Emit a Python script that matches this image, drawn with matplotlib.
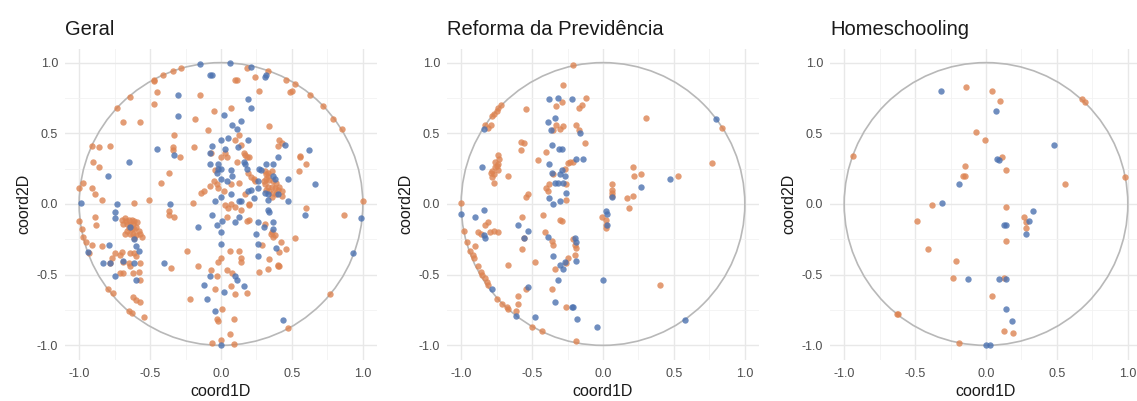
import numpy as np
import matplotlib.pyplot as plt
from matplotlib.patches import Circle

plt.rcParams['font.family'] = ['Liberation Sans', 'DejaVu Sans']
plt.rcParams['axes.unicode_minus'] = False

titulos = ['Geral', 'Reforma da Previdência', 'Homeschooling']
ticks = [-1.0, -0.5, 0.0, 0.5, 1.0]
tick_labels = ['-1.0', '-0.5', '0.0', '0.5', '1.0']
minor_ticks = [-0.75, -0.25, 0.25, 0.75]
raio = 1.0

# --- Geral ---
geral_azul = [
    (-0.15, 0.99), (-0.08, 0.91), (-0.06, 0.91), (-0.30, 0.77), (0.02, 0.63), (-0.30, 0.62),
    (0.0, 0.45), (-0.45, 0.39), (-0.06, 0.41), (-0.33, 0.35), (-0.08, 0.36), (-0.65, 0.30),
    (-0.80, 0.20), (-0.08, 0.28), (-0.02, 0.28), (-0.02, 0.25), (-0.03, 0.22), (-0.99, 0.01),
    (-0.73, 0.0), (-0.36, 0.0), (-0.04, 0.02), (0.0, 0.05), (0.0, 0.18),
    (0.06, 1.0), (0.21, 0.97), (0.32, 0.91), (0.31, 0.90), (0.19, 0.74), (0.21, 0.68),
    (0.14, 0.59), (0.08, 0.56), (0.11, 0.53), (0.05, 0.47), (0.19, 0.45), (0.45, 0.42),
    (0.62, 0.38), (0.40, 0.33), (0.37, 0.28), (0.32, 0.28), (0.27, 0.25), (0.28, 0.24),
    (0.47, 0.18), (0.66, 0.14), (0.07, 0.07), (0.12, 0.40), (0.03, 0.39), (0.17, 0.28),
    (0.18, 0.25), (0.16, 0.30), (0.0, 0.25), (0.07, 0.24), (0.08, 0.20), (0.04, 0.16),
    (0.26, 0.16), (0.26, 0.11), (0.21, 0.10), (0.19, 0.09), (0.40, 0.07), (0.31, 0.08),
    (0.33, 0.07), (0.33, 0.03), (0.23, 0.04), (0.14, 0.02), (0.37, 0.20), (0.38, 0.18),
    (-0.75, -0.06), (-0.75, -0.10), (-0.64, -0.16), (-0.61, -0.25), (-0.60, -0.30),
    (-0.58, -0.33), (-0.61, -0.42), (-0.60, -0.54), (-0.79, -0.29), (-0.83, -0.42),
    (-0.78, -0.42), (-0.69, -0.40), (-0.75, -0.51), (-0.40, -0.42), (-0.16, -0.16),
    (-0.06, -0.08), (-0.03, -0.15), (0.0, -0.20), (0.0, -0.28), (-0.08, -0.51), (-0.12, -0.57),
    (-0.10, -0.67), (-0.04, -0.76), (0.02, -0.62), (0.0, -1.0), (-0.94, -0.34),
    (0.13, 0.02), (0.01, -0.12), (0.10, -0.13), (0.13, -0.09), (0.26, -0.13), (0.25, -0.21),
    (0.26, -0.28), (0.26, -0.37), (0.33, -0.04), (0.34, -0.06), (0.30, -0.16), (0.37, -0.13),
    (0.37, -0.18), (0.39, -0.31), (0.47, 0.02), (0.59, -0.08), (0.99, -0.10), (0.93, -0.35),
    (0.44, -0.82), (0.10, -0.51), (0.11, -0.54), (0.16, -0.58),
]
geral_laranja = [
    (-0.28, 0.96), (-0.34, 0.94), (-0.41, 0.91), (-0.47, 0.88), (-0.47, 0.87), (-0.45, 0.79),
    (-0.47, 0.71), (-0.15, 0.77), (-0.64, 0.76), (-0.73, 0.68), (-0.05, 0.66), (-0.18, 0.60),
    (-0.69, 0.58), (-0.57, 0.58), (-0.09, 0.52), (-0.33, 0.49), (-0.91, 0.41), (-0.86, 0.40),
    (-0.78, 0.41), (-0.34, 0.40), (-0.34, 0.38), (-0.29, 0.33), (-0.19, 0.40), (-0.07, 0.36),
    (-0.90, 0.30), (-0.86, 0.26), (-0.37, 0.22), (-0.42, 0.15), (0.0, 0.33), (-0.05, 0.16),
    (-0.08, 0.13), (-0.14, 0.08), (-0.12, 0.09), (-0.97, 0.15), (-1.0, 0.11), (-0.91, 0.11),
    (-0.89, 0.07), (-0.84, 0.03), (-0.61, 0.01), (-0.51, 0.03), (-0.20, 0.01), (-0.03, 0.14),
    (-0.04, 0.24), (0.02, 0.09), (-0.02, 0.11),
    (0.18, 0.96), (0.33, 0.94), (0.24, 0.90), (0.10, 0.88), (0.11, 0.88), (0.46, 0.88),
    (0.52, 0.85), (0.50, 0.80), (0.49, 0.79), (0.27, 0.80), (0.63, 0.77), (0.72, 0.69),
    (0.79, 0.60), (0.85, 0.53), (0.07, 0.68), (0.34, 0.55), (0.10, 0.45), (0.13, 0.49),
    (0.14, 0.42), (0.41, 0.45), (0.43, 0.43), (0.40, 0.41), (0.11, 0.30), (0.16, 0.36),
    (0.17, 0.35), (0.18, 0.33), (0.20, 0.33), (0.19, 0.22), (0.56, 0.34), (0.56, 0.33),
    (0.60, 0.28), (0.55, 0.23), (0.21, 0.19), (0.23, 0.18), (0.24, 0.16), (0.13, 0.15),
    (0.07, 0.14), (0.17, 0.07), (0.20, 0.0), (0.43, 0.06), (1.0, 0.02), (0.04, 0.33), (0.03, 0.36),
    (0.31, 0.23), (0.33, 0.22), (0.36, 0.23), (0.32, 0.18), (0.34, 0.17), (0.37, 0.16),
    (0.39, 0.15), (0.31, 0.14), (0.33, 0.12), (0.36, 0.12), (0.38, 0.11), (0.40, 0.10),
    (0.32, 0.10), (0.34, 0.09), (0.37, 0.08), (0.39, 0.07), (0.36, 0.05), (0.30, 0.16),
    (0.41, 0.12), (0.43, 0.09), (0.33, 0.20), (0.32, 0.21),
    (-0.70, -0.11), (-0.68, -0.10), (-0.65, -0.11), (-0.63, -0.11), (-0.61, -0.12),
    (-0.69, -0.14), (-0.66, -0.14), (-0.64, -0.15), (-0.62, -0.14), (-0.60, -0.16),
    (-0.65, -0.17), (-0.63, -0.18), (-0.61, -0.18), (-0.58, -0.19), (-0.68, -0.21),
    (-0.64, -0.21), (-0.62, -0.21), (-0.60, -0.22), (-0.57, -0.21), (-0.56, -0.23),
    (-0.61, -0.24), (-0.67, -0.12), (-0.59, -0.13), (-0.66, -0.19),
    (-0.64, -0.35), (-0.61, -0.35), (-0.60, -0.37), (-0.57, -0.42), (-0.58, -0.48),
    (-0.62, -0.49), (-0.57, -0.54), (-0.70, -0.34), (-0.71, -0.36), (-0.75, -0.35),
    (-0.69, -0.41), (-0.65, -0.42), (-0.64, -0.44), (-0.71, -0.49), (-0.69, -0.49),
    (-0.77, -0.38), (-0.78, -0.42), (-0.84, -0.30), (-0.91, -0.29), (-0.89, -0.09),
    (-0.88, -0.15), (-1.0, -0.12), (-0.98, -0.18), (-0.97, -0.23), (-0.95, -0.27),
    (-0.93, -0.35), (-0.80, -0.60), (-0.76, -0.63), (-0.62, -0.66), (-0.60, -0.68),
    (-0.57, -0.69), (-0.65, -0.76), (-0.63, -0.77), (-0.54, -0.80), (-0.24, -0.33),
    (-0.22, -0.67), (-0.16, -0.44), (-0.35, -0.45), (-0.02, -0.41), (0.0, -0.38),
    (-0.07, -0.47), (-0.03, -0.51), (-0.04, -0.60), (-0.03, -0.81), (-0.02, -0.83),
    (-0.06, -0.98), (0.0, -0.96), (-0.37, -0.05), (-0.37, -0.08), (-0.33, -0.09),
    (0.07, 0.0), (0.10, -0.02), (0.05, -0.03), (0.03, -0.01), (0.20, -0.01), (0.14, -0.04),
    (0.04, -0.09), (0.18, -0.12), (0.20, -0.11), (0.31, -0.14), (0.35, -0.21), (0.37, -0.23),
    (0.36, -0.20), (0.38, -0.22), (0.29, -0.29), (0.42, -0.27), (0.46, -0.32), (0.41, -0.34),
    (0.52, -0.24), (0.60, -0.03), (0.87, -0.08), (0.06, -0.33), (0.13, -0.33), (0.14, -0.38),
    (0.14, -0.41), (0.34, -0.39), (0.27, -0.48), (0.33, -0.46), (0.40, -0.43), (0.41, -0.44),
    (0.40, -0.44), (0.04, -0.47), (0.08, -0.49), (0.07, -0.58), (0.10, -0.64), (0.18, -0.63),
    (0.01, -0.74), (0.09, -0.81), (0.06, -0.92), (0.09, -0.99), (0.47, -0.88), (0.77, -0.64),
]

# --- Reforma da Previdência ---
previdencia_azul = [
    (-0.38, 0.74), (-0.32, 0.75), (-0.22, 0.74), (-0.34, 0.61), (-0.39, 0.58), (-0.37, 0.52),
    (-0.16, 0.50), (-0.36, 0.42), (-0.31, 0.39), (-0.29, 0.39), (-0.19, 0.32), (-0.14, 0.32),
    (-0.84, 0.53), (-0.85, 0.26), (-0.38, 0.28), (-0.36, 0.22), (-0.29, 0.24), (-0.30, 0.21),
    (-0.32, 0.15), (-0.34, 0.15), (-0.27, 0.20), (-0.28, 0.15), (-0.26, 0.08), (-0.38, 0.04),
    (-0.35, 0.0), (-0.30, 0.02), (-1.0, -0.07), (-0.90, -0.09), (-0.84, -0.04), (-0.83, -0.24),
    (-0.84, -0.22), (-0.60, -0.15), (-0.53, -0.19), (-0.56, -0.24), (-0.39, -0.23),
    (-0.35, -0.37), (-0.30, -0.43), (-0.28, -0.46), (-0.27, -0.41), (-0.32, -0.54),
    (-0.53, -0.59), (-0.78, -0.60), (-0.34, -0.69), (-0.22, -0.73), (-0.21, -0.73),
    (-0.18, -0.81), (-0.48, -0.80), (-0.61, -0.79), (-0.04, -0.87), (-0.19, -0.40),
    (0.0, -0.54), (-0.20, -0.24), (-0.19, -0.27),
    (0.80, 0.60), (0.27, 0.12), (0.47, 0.18), (0.06, 0.05), (0.02, -0.05), (0.03, -0.07),
    (0.03, -0.15), (0.58, -0.82),
]
previdencia_laranja = [
    (-0.21, 0.98), (-0.28, 0.84), (-0.12, 0.75), (-0.15, 0.70), (-0.17, 0.68), (-0.29, 0.72),
    (-0.33, 0.69), (-0.54, 0.67), (-0.72, 0.70), (-0.74, 0.68), (-0.75, 0.66), (-0.77, 0.64),
    (-0.78, 0.62), (-0.83, 0.56), (-0.79, 0.56), (-0.81, 0.54), (-0.58, 0.44), (-0.56, 0.43),
    (-0.58, 0.38), (-0.46, 0.31), (-0.40, 0.37), (-0.74, 0.35), (-0.73, 0.32), (-0.76, 0.30),
    (-0.74, 0.28), (-0.75, 0.27), (-0.76, 0.26), (-0.74, 0.24), (-0.78, 0.23), (-0.79, 0.22),
    (-0.77, 0.21), (-0.78, 0.19), (-0.77, 0.15), (-0.67, 0.20), (-0.35, 0.52), (-0.33, 0.56),
    (-0.30, 0.53), (-0.28, 0.55), (-0.19, 0.56), (-0.17, 0.52), (-0.13, 0.43), (-0.25, 0.29),
    (-0.23, 0.30), (-0.21, 0.30), (-0.27, 0.25), (-0.26, 0.14), (-0.35, 0.21), (-0.38, 0.14),
    (-0.40, 0.11), (-0.39, 0.09), (-0.53, 0.07), (-0.54, 0.05), (-0.26, 0.03), (-0.30, -0.11),
    (-0.29, -0.12), (-0.42, -0.08), (-0.57, -0.09), (-1.0, 0.01), (-0.81, -0.13), (-0.83, -0.15),
    (-0.88, -0.20), (-0.86, -0.21), (-0.80, -0.20), (-0.77, -0.19), (-0.74, -0.20), (-0.98, -0.19),
    (-0.96, -0.27), (-0.94, -0.33), (-0.92, -0.36), (-0.91, -0.38), (-0.90, -0.30), (-0.88, -0.44),
    (-0.86, -0.48), (-0.85, -0.50), (-0.83, -0.52), (-0.82, -0.55), (-0.81, -0.57), (-0.75, -0.67),
    (-0.71, -0.71), (-0.68, -0.73), (-0.67, -0.74), (-0.61, -0.76), (-0.60, -0.71), (-0.54, -0.60),
    (-0.67, -0.43), (-0.60, -0.65), (-0.50, -0.87), (-0.43, -0.90), (-0.48, -0.41), (-0.57, -0.32),
    (-0.56, -0.24), (-0.41, -0.20), (-0.36, -0.26), (-0.35, -0.29), (-0.34, -0.46), (-0.36, -0.60),
    (-0.26, -0.73), (-0.19, -0.97), (-0.21, -0.25), (-0.20, -0.29), (-0.19, -0.31), (-0.20, -0.36),
    (-0.25, -0.38), (-0.26, -0.42),
    (0.30, 0.61), (0.84, 0.54), (0.77, 0.29), (0.21, 0.26), (0.22, 0.20), (0.27, 0.21),
    (0.53, 0.20), (0.06, 0.14), (0.06, 0.10), (0.06, 0.08), (0.06, 0.06), (0.17, 0.04),
    (0.21, 0.06), (0.18, -0.03), (-0.01, -0.09), (0.02, -0.11), (0.02, -0.15), (0.02, -0.17),
    (0.40, -0.57),
]

# --- Homeschooling ---
homeschooling_azul = [
    (-0.32, 0.80), (0.07, 0.66), (0.48, 0.42), (0.08, 0.32), (0.09, 0.31), (-0.19, 0.14),
    (-0.31, 0.01), (0.33, -0.05), (0.30, -0.12), (0.28, -0.21), (0.13, -0.15), (0.14, -0.15),
    (-0.13, -0.53), (0.09, -0.53), (0.14, -0.53), (0.14, -0.74), (0.18, -0.83), (0.0, -1.0),
    (0.03, -1.0),
]
homeschooling_laranja = [
    (-0.14, 0.83), (0.04, 0.80), (0.10, 0.73), (0.68, 0.74), (0.70, 0.72), (-0.07, 0.51),
    (-0.01, 0.45), (0.11, 0.33), (0.14, 0.24), (-0.15, 0.27), (-0.15, 0.20), (-0.16, 0.20),
    (-0.94, 0.34), (0.56, 0.14), (0.98, 0.19), (-0.38, -0.01), (0.14, -0.02), (-0.49, -0.12),
    (0.27, -0.09), (0.28, -0.13), (0.28, -0.17), (-0.41, -0.32), (0.14, -0.26), (-0.21, -0.40),
    (-0.23, -0.52), (0.13, -0.52), (0.04, -0.65), (-0.63, -0.78), (-0.62, -0.78), (0.13, -0.90),
    (0.19, -0.91), (-0.19, -0.98),
]

paineis = [
    (geral_azul, geral_laranja),
    (previdencia_azul, previdencia_laranja),
    (homeschooling_azul, homeschooling_laranja),
]

COR_AZUL = '#4C72B0'
COR_LARANJA = '#DD8452'

W, H = 1137, 401
fig = plt.figure(figsize=(W / 100, H / 100), dpi=100)

lefts = [65, 447, 830]
pw, ph, ptop = 312, 311, 48.5

for left, titulo, (azul, laranja) in zip(lefts, titulos, paineis):
    ax = fig.add_axes([left / W, 1 - (ptop + ph) / H, pw / W, ph / H])
    ax.add_patch(Circle((0, 0), raio, fill=False, ec='#b8b8b8', lw=1.2, zorder=2))
    for pts, cor in ((laranja, COR_LARANJA), (azul, COR_AZUL)):
        arr = np.array(pts)
        ax.scatter(arr[:, 0], arr[:, 1], s=21, c=cor, alpha=0.8, linewidths=0, zorder=3)

    ax.set_xlim(-1.1, 1.1)
    ax.set_ylim(-1.1, 1.1)
    ax.set_xticks(ticks)
    ax.set_yticks(ticks)
    ax.set_xticklabels(tick_labels)
    ax.set_yticklabels(tick_labels)
    ax.set_xticks(minor_ticks, minor=True)
    ax.set_yticks(minor_ticks, minor=True)
    ax.grid(which='major', color='#e8e8e8', lw=1.0)
    ax.grid(which='minor', color='#f2f2f2', lw=0.6)
    ax.set_axisbelow(True)
    for s in ax.spines.values():
        s.set_visible(False)
    ax.tick_params(which='both', length=0)
    ax.tick_params(axis='x', labelsize=9, colors='#4d4d4d', pad=6)
    ax.tick_params(axis='y', labelsize=9, colors='#4d4d4d', pad=5)
    ax.set_xlabel('coord1D', fontsize=11.5, color='#1a1a1a', labelpad=3)
    ax.set_ylabel('coord2D', fontsize=11.5, color='#1a1a1a', labelpad=4)
    ax.set_title(titulo, loc='left', fontsize=14.5, color='#1a1a1a', pad=10)

fig.savefig('out.png', dpi=100)
